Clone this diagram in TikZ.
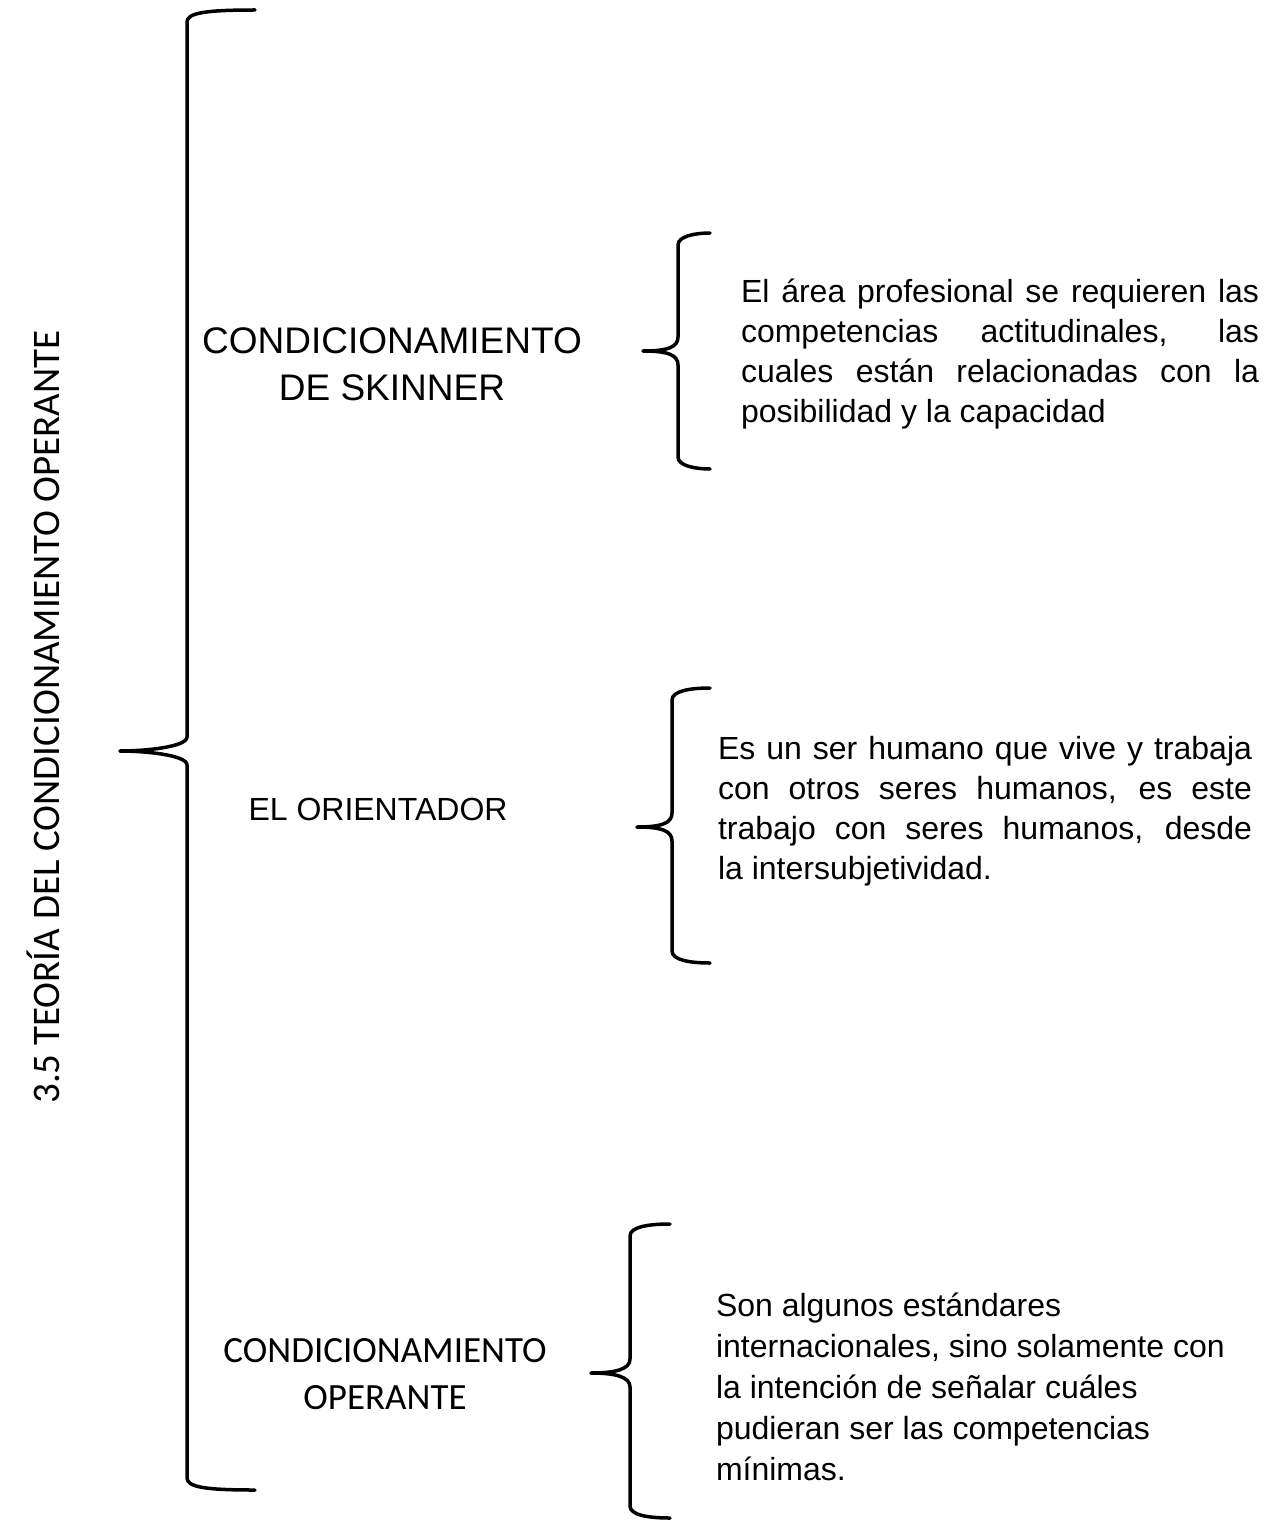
\documentclass[tikz,border=0pt]{standalone}
\usepackage{fontspec}
\setmainfont{Liberation Sans}
\newfontfamily\calibfont{Carlito}
\newcommand\curlybrace[6]{% #1 end x, #2 top y, #3 vertical x, #4 tip x, #5 mid y, #6 bottom y
  \draw[bracestyle] (#1,#2) .. controls ({#3+18},#2) and (#3,{#2+3}) .. (#3,{#2+12})
     -- (#3,{#5-14}) .. controls (#3,{#5-4}) and ({#4+25},#5) .. (#4,#5);
  \draw[bracestyle] (#4,#5) .. controls ({#4+25},#5) and (#3,{#5+4}) .. (#3,{#5+14})
     -- (#3,{#6-12}) .. controls (#3,{#6-3}) and ({#3+18},#6) .. (#1,#6);
}
\begin{document}
\begin{tikzpicture}[x=1pt,y=-1pt,
  bracestyle/.style={line width=3.5pt, line cap=round, line join=round},
  lbl/.style={inner sep=0pt, outer sep=0pt, anchor=base},
  para/.style={inner sep=0pt, outer sep=0pt, anchor=base west}]
\useasboundingbox (0,0) rectangle (1274,1522);

% braces
\curlybrace{255}{10}{187}{120}{751}{1490}
\curlybrace{710}{233}{678}{643}{351}{469}
\curlybrace{710}{688}{672}{637}{827}{963}
\curlybrace{670}{1224}{630}{591}{1373}{1518}

% vertical title
\node[lbl, rotate=90] (title) at (59,717)
  {\calibfont\fontsize{39}{47}\selectfont 3.5 TEORÍA DEL CONDICIONAMIENTO OPERANTE};

% left labels
\node[lbl] (skinner) at (392,353)
  {\parbox[t]{420pt}{\centering\fontsize{37}{47}\selectfont CONDICIONAMIENTO\\DE SKINNER}};
\node[lbl] (orient) at (378,820)
  {\fontsize{32}{40}\selectfont EL ORIENTADOR};
\node[lbl] (operante) at (385,1362)
  {\parbox[t]{420pt}{\centering\calibfont\fontsize{37}{47}\selectfont CONDICIONAMIENTO\\OPERANTE}};

% right paragraphs
\node[para] (txtA) at (741,302)
  {\parbox[t]{518pt}{\fontsize{32}{40}\selectfont\hyphenpenalty=10000\exhyphenpenalty=10000
   El área profesional se requieren las\linebreak competencias actitudinales, las\linebreak
   cuales están relacionadas con la\linebreak posibilidad y la capacidad}};
\node[para] (txtB) at (718,759)
  {\parbox[t]{534pt}{\fontsize{32}{40}\selectfont\hyphenpenalty=10000\exhyphenpenalty=10000
   Es un ser humano que vive y trabaja\linebreak con otros seres humanos, es este\linebreak
   trabajo con seres humanos, desde\linebreak la intersubjetividad.}};
\node[para] (txtC) at (716,1316)
  {\parbox[t]{540pt}{\raggedright\fontsize{32}{41}\selectfont
   Son algunos estándares\\ internacionales, sino solamente con\\ la intención de señalar cuáles\\
   pudieran ser las competencias\\ mínimas.}};
\end{tikzpicture}
\end{document}
